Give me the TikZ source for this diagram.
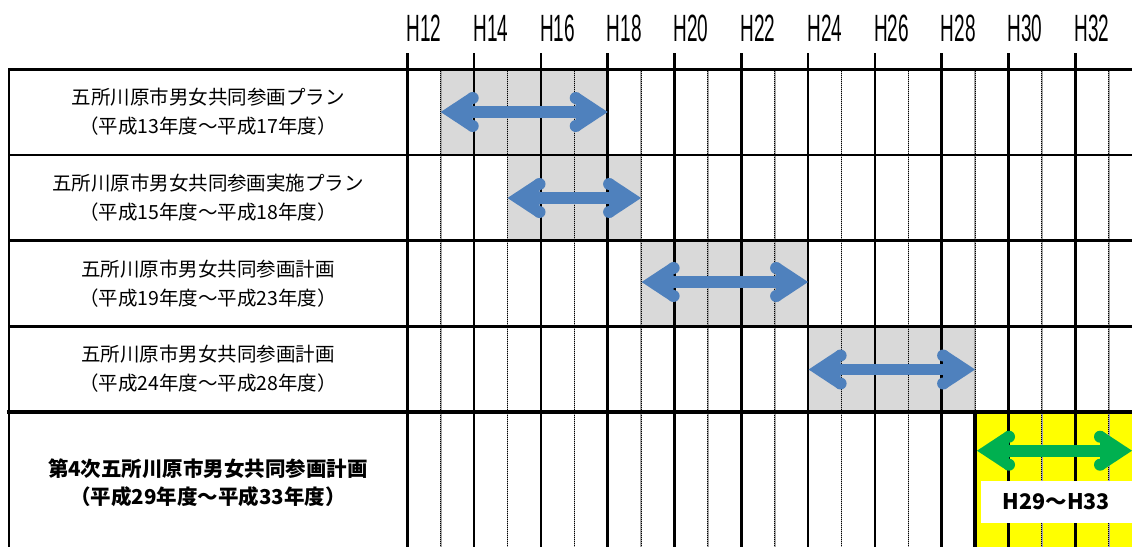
\documentclass[tikz,border=0pt]{standalone}
\usepackage{fontspec}
\newfontfamily\jp{Noto Sans CJK JP}
\newfontfamily\narrow[FakeStretch=0.5]{Liberation Sans}
\usetikzlibrary{calc}
\definecolor{planblue}{HTML}{4F81BD}
\definecolor{plangreen}{HTML}{00B050}
\definecolor{shadegray}{HTML}{D9D9D9}
\definecolor{hlyellow}{HTML}{FFFF00}

% left-pointing head with tip at #1
\newcommand{\headLeft}[2]{%
  \fill[#2] (#1) -- ($(#1)+(29.6,-19.5)$) -- ($(#1)+(32,-14)$) -- ($(#1)+(32,14)$) -- ($(#1)+(29.6,19.5)$) -- cycle;
  \fill[#2] ($(#1)+(32,-14)$) circle[radius=6pt];
  \fill[#2] ($(#1)+(32,14)$) circle[radius=6pt];
}
% right-pointing head with tip at #1
\newcommand{\headRight}[2]{%
  \fill[#2] (#1) -- ($(#1)+(-29.6,-19.5)$) -- ($(#1)+(-32,-14)$) -- ($(#1)+(-32,14)$) -- ($(#1)+(-29.6,19.5)$) -- cycle;
  \fill[#2] ($(#1)+(-32,-14)$) circle[radius=6pt];
  \fill[#2] ($(#1)+(-32,14)$) circle[radius=6pt];
}

\begin{document}
\begin{tikzpicture}[x=1pt,y=-1pt,
  gridline/.style={line width=2.7pt,black},
  thickline/.style={line width=4.5pt,black},
  dotline/.style={line width=1.6pt,gray!70},
  dotover/.style={line width=1.1pt,black,dash pattern=on 1pt off 1pt},
  yearlabel/.style={anchor=base west,inner sep=0pt,font=\narrow\fontsize{38}{38}\selectfont},
  plantext/.style={align=center,inner sep=0pt,font=\jp\fontsize{19.5}{29}\selectfont},
  boldtext/.style={align=center,inner sep=0pt,font=\jp\bfseries\fontsize{20.5}{28}\selectfont},
  shaft/.style={line width=11.7pt,shorten <=10pt,shorten >=10pt},
  spanlabel/.style={fill=white,inner sep=0pt,minimum width=151pt,minimum height=42pt,font=\jp\bfseries\fontsize{21.5}{21.5}\selectfont}
]
\useasboundingbox (0,0) rectangle (1132,547);
\clip (0,0) rectangle (1132,547);
\fill[white] (0,0) rectangle (1132,547);

% period shading
\fill[shadegray] (440.7,69) rectangle (607.7,155);
\fill[shadegray] (507.5,155) rectangle (641.1,240.7);
\fill[shadegray] (641.1,240.7) rectangle (808.1,326.4);
\fill[shadegray] (808.1,326.4) rectangle (975.1,412);
\fill[hlyellow] (975.1,412) rectangle (1132,547);

% dotted (odd-year) lines
\foreach \k in {0,...,10}{
  \pgfmathsetmacro{\xx}{440.7+66.8*\k}
  \ifnum\k=8
    \draw[dotline] (\xx,69) -- (\xx,412);
    \draw[dotover] (\xx,69) -- (\xx,412);
  \else
    \draw[dotline] (\xx,69) -- (\xx,547);
    \draw[dotover] (\xx,69) -- (\xx,547);
  \fi
}
% solid (even-year) lines with ticks and labels
\foreach \k/\lab in {0/H12,1/H14,2/H16,3/H18,4/H20,5/H22,6/H24,7/H26,8/H28,9/H30,10/H32}{
  \pgfmathsetmacro{\xx}{407.3+66.8*\k}
  \draw[gridline] (\xx,53) -- (\xx,547);
  \node[yearlabel] (lab\lab) at (\xx-1,41.5) {\lab};
}
% thick line at H29 in the last row
\draw[thickline] (975.1,412) -- (975.1,547);

% frame and row separators
\draw[gridline] (9,69.5) -- (1132,69.5);
\draw[gridline] (9,155) -- (1132,155);
\draw[gridline] (9,240.7) -- (1132,240.7);
\draw[gridline] (9,326.4) -- (1132,326.4);
\draw[gridline] (9,68.2) -- (9,547);
\draw[thickline] (7,412) -- (1132,412);

% plan names
\node[plantext] (plan1) at (208,112) {五所川原市男女共同参画プラン\\（平成13年度～平成17年度）};
\node[plantext] (plan2) at (208,198) {五所川原市男女共同参画実施プラン\\（平成15年度～平成18年度）};
\node[plantext] (plan3) at (208,283.5) {五所川原市男女共同参画計画\\（平成19年度～平成23年度）};
\node[plantext] (plan4) at (208,369) {五所川原市男女共同参画計画\\（平成24年度～平成28年度）};
\node[boldtext] (plan5) at (208,483) {第4次五所川原市男女共同参画計画\\（平成29年度～平成33年度）};

% arrow end points
\coordinate (a1s) at (440.7,112);   \coordinate (a1e) at (607.7,112);
\coordinate (a2s) at (507.5,198);   \coordinate (a2e) at (641.1,198);
\coordinate (a3s) at (641.6,282);   \coordinate (a3e) at (808.1,282);
\coordinate (a4s) at (808.6,369.5); \coordinate (a4e) at (975.1,369.5);
\coordinate (a5s) at (977,450.7);   \coordinate (a5e) at (1132,450.7);

\foreach \i in {1,2,3,4}{
  \draw[shaft,planblue] (a\i s) -- (a\i e);
  \headLeft{a\i s}{planblue}
  \headRight{a\i e}{planblue}
}
\draw[shaft,plangreen] (a5s) -- (a5e);
\headLeft{a5s}{plangreen}
\headRight{a5e}{plangreen}

\node[spanlabel] (span) at (1056.5,502) {H29～H33};
\end{tikzpicture}
\end{document}
